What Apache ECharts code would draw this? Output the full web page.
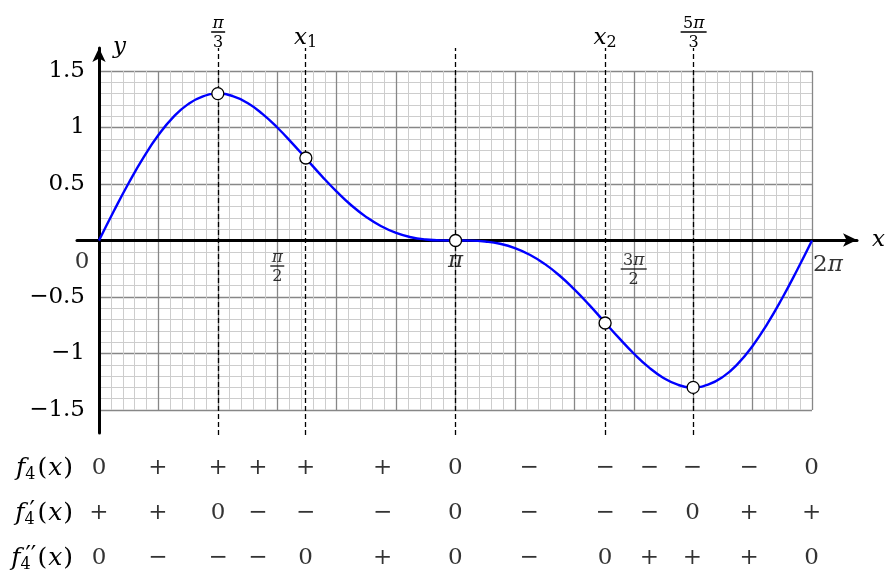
<!DOCTYPE html>
<html>
<head>
    <meta charset="utf-8">
    <title>f4</title>
    <script src="https://cdn.jsdelivr.net/npm/echarts@6/dist/echarts.min.js"></script>
</head>
<body style="margin:0">
<div id="main" style="width: 886px;height:573px;"></div>
<script type="text/javascript">
    // data
    var xMax = 2 * Math.PI;
    var xStep = Math.PI / 24;   // curve sampled every pi/24
    var curveY = [0, 0.261, 0.509, 0.736, 0.933, 1.092, 1.207, 1.276, 1.299, 1.278, 1.216, 1.121, 1.000,
        0.862, 0.716, 0.570, 0.433, 0.310, 0.207, 0.126, 0.067, 0.029, 0.009, 0.001, 0,
        -0.001, -0.009, -0.029, -0.067, -0.126, -0.207, -0.310, -0.433, -0.570, -0.716, -0.862, -1.000,
        -1.121, -1.216, -1.278, -1.299, -1.276, -1.207, -1.092, -0.933, -0.736, -0.509, -0.261, 0];
    var keyX = [1.047, 1.823, 3.142, 4.460, 5.236];
    var keyY = [1.30, 0.73, 0.00, -0.73, -1.30];
    var guideLabels = ['{np|π}\n{bar| }\n{d|3}', '{xi|x}{xs|1}', '', '{xi|x}{xs|2}', '{n|5}{np|π}\n{barw| }\n{d|3}'];
    var tickX = [0, 1.571, 3.142, 4.712, 6.283];
    var tickLabels = ['{t|0}', '{np|π}\n{bar| }\n{d|2}', '{tp|π}', '{n|3}{np|π}\n{barw| }\n{d|2}', '{t|2}{tp|π}'];
    var colX = [0, 0.52, 1.05, 1.40, 1.82, 2.50, 3.14, 3.79, 4.46, 4.85, 5.23, 5.73, 6.28];
    var rowNames = ['f', 'f1', 'f2'];
    var signF = ['0', '+', '+', '+', '+', '+', '0', '−', '−', '−', '−', '−', '0'];
    var signF1 = ['+', '+', '0', '−', '−', '−', '0', '−', '−', '−', '0', '+', '+'];
    var signF2 = ['0', '−', '−', '−', '0', '+', '0', '−', '0', '+', '+', '+', '0'];

    var FONT = 'DejaVu Serif';
    var BIG = 23;

    var fracRich = {
        n: {fontFamily: FONT, fontSize: 16, lineHeight: 11, align: 'center', color: '#000'},
        np: {fontFamily: FONT, fontSize: 17, fontStyle: 'italic', lineHeight: 11, align: 'center', color: '#000'},
        d: {fontFamily: FONT, fontSize: 16, lineHeight: 16, align: 'center', color: '#000'},
        bar: {width: 14, height: 1.5, lineHeight: 6, backgroundColor: '#000', align: 'center'},
        barw: {width: 26, height: 1.5, lineHeight: 6, backgroundColor: '#000', align: 'center'},
        xi: {fontFamily: FONT, fontSize: BIG, fontStyle: 'italic', color: '#000'},
        xs: {fontFamily: FONT, fontSize: 16, color: '#000', padding: [10, 0, 0, 0]},
        t: {fontFamily: FONT, fontSize: BIG, color: '#000'},
        tp: {fontFamily: FONT, fontSize: BIG, fontStyle: 'italic', color: '#000'}
    };

    var ROW = 25;
    var rowRich = {
        f: {fontFamily: FONT, fontStyle: 'italic', fontSize: ROW, align: 'left', color: '#000'},
        s: {fontFamily: FONT, fontSize: 16, align: 'left', color: '#000', padding: [14, 2, 0, 0]},
        s0: {fontFamily: FONT, fontSize: 16, align: 'left', color: '#000', width: 1, padding: [14, 0, 0, 0]},
        p1: {fontFamily: FONT, fontSize: 24, align: 'left', color: '#000', width: 8, padding: [0, 0, 2, 4]},
        p2: {fontFamily: FONT, fontSize: 24, align: 'left', color: '#000', width: 12, padding: [0, 0, 2, 4]},
        t: {fontFamily: FONT, fontSize: ROW, align: 'left', color: '#000'},
        i: {fontFamily: FONT, fontStyle: 'italic', fontSize: ROW, align: 'left', color: '#000', padding: [0, 1, 0, 1]}
    };
    var rowText = {
        f: '{f|f}{s|4}{t|(}{i|x}{t|)}',
        f1: '{f|f}{s0|4}{p1|′}{t|(}{i|x}{t|)}',
        f2: '{f|f}{s0|4}{p2|′′}{t|(}{i|x}{t|)}'
    };

    // build series data
    var curveData = curveY.map(function (y, k) { return [k * xStep, y]; });
    var keyData = keyX.map(function (x, i) { return [x, keyY[i]]; });

    var guideData = keyX.map(function (x, i) {
        if (!guideLabels[i]) return {xAxis: x, label: {show: false}};
        return {xAxis: x, label: {formatter: guideLabels[i]}};
    });

    var tickOffsets = [[-17, 22], [0, 28], [0, 21], [0, 31], [16, 25]];
    var tickData = tickX.map(function (x, i) {
        return {value: [x, 0], label: {formatter: tickLabels[i], offset: tickOffsets[i]}};
    });

    var tableData = [];
    [signF, signF1, signF2].forEach(function (signs, r) {
        signs.forEach(function (s, c) {
            tableData.push({value: [colX[c], r], name: s});
        });
    });

    var gridLine = {show: true, lineStyle: {color: '#878787', width: 1.3}};
    var minorLine = {show: true, lineStyle: {color: '#cdcdcd', width: 1}};
    var hiddenX = function (g) { return {gridIndex: g, type: 'value', min: 0, max: xMax, show: false}; };
    var hiddenY = function (g) { return {gridIndex: g, type: 'value', min: 0, max: 1, show: false}; };

    var myChart = echarts.init(document.getElementById('main'));
    var option = {
        animation: false,
        backgroundColor: '#fff',
        grid: [
            {left: 99, right: 74, top: 71, bottom: 163},   // plot
            {left: 99, right: 74, top: 48, bottom: 138},   // dashed guides
            {left: 77, right: 28, top: 0, bottom: 333},    // x axis arrow
            {left: 99, width: 20, top: 48, bottom: 140},   // y axis arrow
            {left: 99, right: 74, top: 468, bottom: 14}    // sign table
        ],
        xAxis: [
            {
                gridIndex: 0, type: 'value', min: 0, max: xMax, interval: Math.PI / 6,
                axisLine: {show: false}, axisTick: {show: false}, axisLabel: {show: false},
                splitLine: gridLine, minorTick: {show: false, splitNumber: 5}, minorSplitLine: minorLine
            },
            hiddenX(1),
            {
                gridIndex: 2, type: 'value', min: 0, max: 1, position: 'bottom',
                axisLine: {show: true, onZero: false, symbol: ['none', 'arrow'], symbolSize: [10, 14],
                    lineStyle: {color: '#000', width: 3}},
                axisTick: {show: false}, axisLabel: {show: false}, splitLine: {show: false},
                name: 'x', nameLocation: 'end', nameGap: 15,
                nameTextStyle: {fontFamily: FONT, fontStyle: 'italic', fontSize: BIG, color: '#000'}
            },
            hiddenX(3),
            hiddenX(4)
        ],
        yAxis: [
            {
                gridIndex: 0, type: 'value', min: -1.5, max: 1.5, interval: 0.5,
                axisLine: {show: false}, axisTick: {show: false},
                axisLabel: {
                    fontFamily: FONT, fontSize: BIG, color: '#000', margin: 14,
                    formatter: function (v) {
                        if (v === 0) return '';
                        return (v < 0 ? '−' : '') + Math.abs(v);
                    }
                },
                splitLine: gridLine, minorTick: {show: false, splitNumber: 5}, minorSplitLine: minorLine
            },
            hiddenY(1),
            hiddenY(2),
            {
                gridIndex: 3, type: 'value', min: 0, max: 1, position: 'left',
                axisLine: {show: true, onZero: false, symbol: ['none', 'arrow'], symbolSize: [10, 14],
                    lineStyle: {color: '#000', width: 3}},
                axisTick: {show: false}, axisLabel: {show: false}, splitLine: {show: false},
                name: 'y', nameLocation: 'end', nameGap: 1,
                nameTextStyle: {fontFamily: FONT, fontStyle: 'italic', fontSize: BIG, color: '#000',
                    align: 'left', verticalAlign: 'middle', padding: [0, 0, 0, 14]}
            },
            {
                gridIndex: 4, type: 'category', data: rowNames, inverse: true, boundaryGap: false,
                axisLine: {show: false}, axisTick: {show: false}, splitLine: {show: false},
                axisLabel: {
                    margin: 26, rich: rowRich,
                    formatter: function (v) { return rowText[v]; }
                }
            }
        ],
        series: [
            {
                // vertical dashed guides
                type: 'line', xAxisIndex: 1, yAxisIndex: 1, data: [], silent: true,
                markLine: {
                    silent: true, symbol: ['none', 'none'],
                    lineStyle: {color: '#000', type: [5, 3], width: 1.3},
                    label: {show: true, position: 'end', distance: -3, rich: fracRich},
                    data: guideData
                }
            },
            {
                type: 'line', xAxisIndex: 0, yAxisIndex: 0, data: curveData,
                smooth: true, showSymbol: false, silent: true,
                lineStyle: {color: '#0000ff', width: 2.4}
            },
            {
                // x tick labels
                type: 'scatter', xAxisIndex: 0, yAxisIndex: 0, data: tickData,
                symbolSize: 1, itemStyle: {color: 'rgba(0,0,0,0)'}, clip: false, silent: true,
                label: {show: true, position: 'inside', rich: fracRich}
            },
            {
                type: 'scatter', xAxisIndex: 0, yAxisIndex: 0, data: keyData,
                symbol: 'circle', symbolSize: 12, silent: true, z: 5,
                itemStyle: {color: '#fff', borderColor: '#000', borderWidth: 1.3, opacity: 1}
            },
            {
                // sign table
                type: 'scatter', xAxisIndex: 4, yAxisIndex: 4, data: tableData,
                symbolSize: 1, itemStyle: {color: 'rgba(0,0,0,0)'}, clip: false, silent: true,
                label: {show: true, position: 'inside', formatter: '{b}',
                    fontFamily: FONT, fontSize: BIG, color: '#000'}
            }
        ]
    };
    myChart.setOption(option);
</script>
</body>
</html>
